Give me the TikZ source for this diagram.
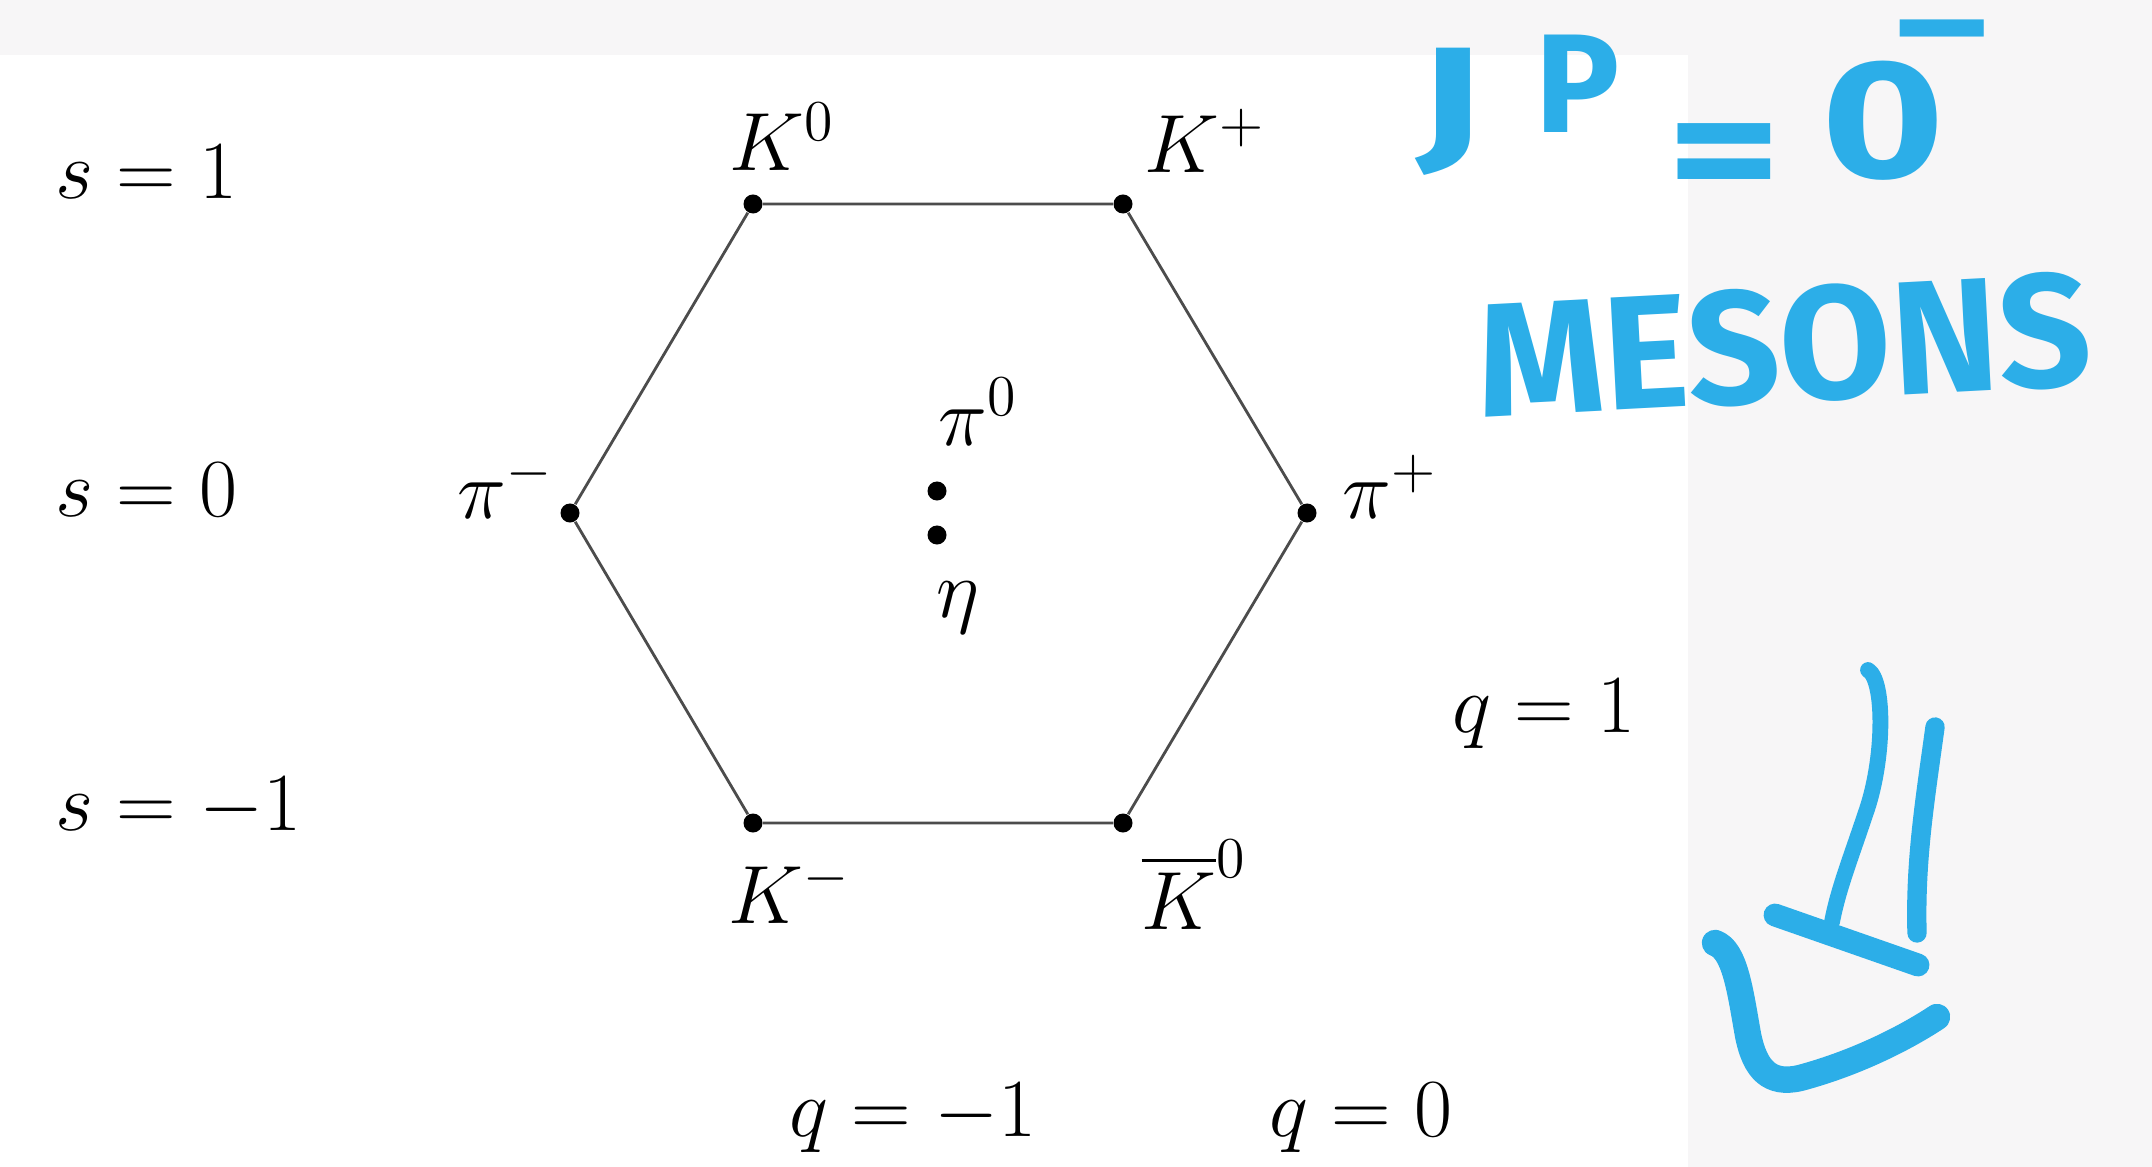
\RequirePackage{fix-cm}
\documentclass[tikz,border=0pt]{standalone}
\usepackage{amsmath}
\usepackage{fontspec}
\usepackage{tikz}
\usetikzlibrary{arrows.meta}
\usetikzlibrary{positioning}
\usepackage{xcolor}
\definecolor{penblue}{HTML}{2CAEE8}
\definecolor{paper}{HTML}{F7F6F7}
\newfontfamily\penfont{Fira Sans}
\newcommand{\Kbar}{\overline{K}}
\newcommand{\lblsize}{\fontsize{23.5}{28}\selectfont}
\newcommand{\pensize}[1]{\penfont\bfseries\fontsize{#1}{#1}\selectfont}
\tikzset{
  pt/.style={circle,fill=black,inner sep=0pt,minimum size=0.19cm},
  lbl/.style={font=\lblsize,inner sep=0pt},
  hand/.style={penblue,inner sep=0pt},
  pen/.style={penblue,line width=6.5pt,line cap=round,line join=round},
}

\begin{document}
\begin{tikzpicture}[x=0.01cm,y=-0.01cm]
\fill[paper] (0,0) rectangle (2152,1167);
\fill[white] (0,55) rectangle (1688,1167);
\useasboundingbox (0,0) rectangle (2152,1167);

\node[pt] (k0) at (753,204) {};
\node[pt] (kp) at (1123,204) {};
\node[pt] (pip) at (1307,513) {};
\node[pt] (kb) at (1123,823) {};
\node[pt] (km) at (753,823) {};
\node[pt] (pim) at (570,513) {};
\node[pt] (pi0) at (937,491) {};
\node[pt] (eta) at (937,535) {};
\draw[line width=0.8pt,black!70] (k0) -- (kp) -- (pip) -- (kb) -- (km) -- (pim) -- (k0);

\node[lbl] (lk0) at (782,137) {$K^0$};
\node[lbl] (lkp) at (1205,141) {$K^+$};
\node[lbl] (lpim) at (505,487) {$\pi^-$};
\node[lbl] (lpip) at (1390,487) {$\pi^+$};
\node[lbl] (lpi0) at (978,412) {$\pi^0$};
\node[lbl] (leta) at (958,608) {$\eta$};
\node[lbl] (lkm) at (789,892) {$K^-$};
\node[lbl] (lkb) at (1194,885) {$\Kbar^0$};

\node[lbl,anchor=west] (s1) at (55,172) {$s=1$};
\node[lbl,anchor=west] (s0) at (55,490) {$s=0$};
\node[lbl,anchor=west] (sm) at (55,807) {$s=-1$};
\node[lbl] (q1) at (1544,714) {$q=1$};
\node[lbl] (qm) at (913,1118) {$q=-1$};
\node[lbl] (q0) at (1361,1118) {$q=0$};

\node[hand,font=\pensize{42},xscale=1.4] (jj) at (1450,112) {J};
\node[hand,font=\pensize{40}] (jp) at (1578,84) {P};
\node[hand,font=\pensize{48},xscale=1.3] (jeq) at (1724,166) {=};
\node[hand,font=\pensize{48},xscale=1.25,anchor=base] (jz) at (1883,178)
  {0\rlap{\kern-11pt\raisebox{30pt}{\fontsize{40}{40}\selectfont –}}};
\node[hand,font=\pensize{46},rotate=3] (mes) at (1784,345) {MESONS};

\draw[pen,line width=4.5pt] (1868,670) .. controls (1885,680) and (1885,760) .. (1865,815)
  .. controls (1850,860) and (1838,890) .. (1832,922);
\draw[pen,line width=5.5pt] (1935,727) .. controls (1925,800) and (1915,860) .. (1917,933);
\draw[pen] (1775,915) -- (1918,965);
\draw[pen,line width=7.5pt] (1715,943) .. controls (1735,950) and (1740,990) .. (1748,1035)
  .. controls (1755,1070) and (1770,1085) .. (1800,1078)
  .. controls (1860,1062) and (1910,1035) .. (1937,1017);
\end{tikzpicture}
\end{document}
